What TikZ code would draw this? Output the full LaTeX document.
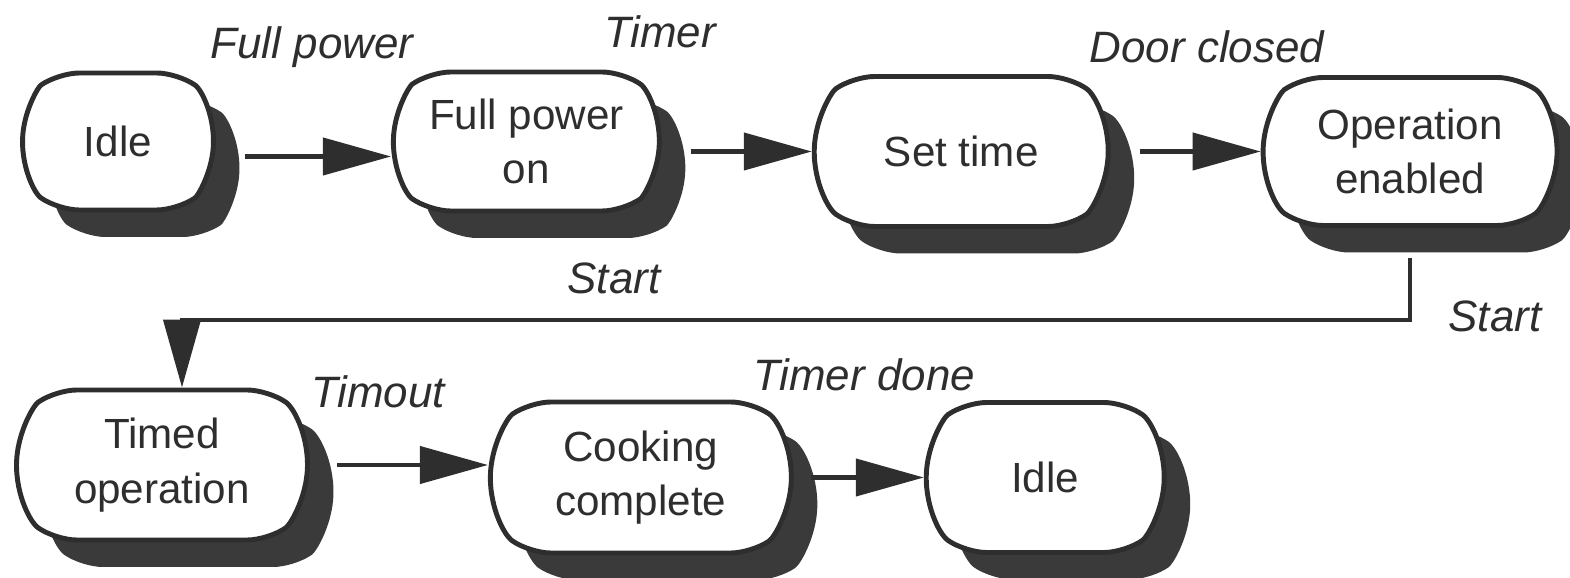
\documentclass[tikz,border=0pt]{standalone}
\usepackage{fontspec}
\setmainfont{Liberation Sans}
\usetikzlibrary{positioning,shapes.misc,shadows,arrows.meta}
\definecolor{ink}{HTML}{2E2E2E}
\definecolor{shade}{HTML}{3A3A3A}

\begin{document}
\begin{tikzpicture}[auto,font=\fontsize{12}{15.5}\selectfont]
	\tikzstyle{state}=[rounded rectangle, rounded rectangle arc length=110, rounded corners=6pt, draw=ink, line width=1.4pt, fill=white, text=ink, align=center, inner sep=2pt, drop shadow={shadow xshift=0.26cm, shadow yshift=-0.27cm, fill=shade, opacity=1}]
	\tikzstyle{event}=[text=ink, font=\fontsize{12.5}{15}\selectfont\itshape]
	\tikzstyle{trans}=[draw=ink, line width=1.2pt, sharp corners, -{Triangle[length=0.68cm, width=0.37cm]}]
	\useasboundingbox (0,0) rectangle (15.7,-5.78);
		% first row
		\node[state, minimum width=2.05cm, minimum height=1.37cm] (idle) at (1.18,-1.415) {Idle};
		\node[state, right=1.75cm of idle, minimum width=2.8cm, minimum height=1.39cm] (fullon) {Full power\\on};
		\node[state, right=1.5cm of fullon, yshift=-1mm, minimum width=3.08cm, minimum height=1.5cm] (settime) {Set time};
		\node[state, right=1.5cm of settime, minimum width=3.08cm, minimum height=1.48cm] (enabled) {Operation\\enabled};
			\draw[trans] ([xshift=0.29cm,yshift=-0.15cm]idle.east) -- ([yshift=-0.15cm]fullon.west);
			\draw[trans] ([xshift=0.29cm]fullon.east |- settime.west) -- (settime.west);
			\draw[trans] ([xshift=0.29cm]settime.east) -- (enabled.west);
		% second row
		\node[state, minimum width=3.05cm, minimum height=1.5cm] (timed) at (1.62,-4.65) {Timed\\operation};
		\node[state, right=1.78cm of timed, yshift=-1.25mm, minimum width=3.15cm, minimum height=1.51cm] (cooked) {Cooking\\complete};
		\node[state, right=1.3cm of cooked, minimum width=2.52cm, minimum height=1.5cm] (idle2) {Idle};
			\draw[trans] ([yshift=-0.3cm]enabled.south) -- ++(0,-0.62) -| ([xshift=0.2cm]timed.north);
			\draw[trans] ([xshift=0.27cm]timed.east) -- (timed.east -| cooked.west);
			\draw[trans] ([xshift=0.17cm]cooked.east) -- (idle2.west);
		% events
		\node[event] (evfull) at (3.12,-0.47) {Full power};
		\node[event] (evtimer) at (6.60,-0.32) {Timer};
		\node[event] (evdoor) at (12.07,-0.47) {Door closed};
		\node[event] (evstart) at (6.14,-2.78) {Start};
		\node[event] (evstart2) at (14.95,-3.16) {Start};
		\node[event] (evtimeout) at (3.78,-3.92) {Timout};
		\node[event] (evdone) at (8.64,-3.75) {Timer done};
\end{tikzpicture}
\end{document}
